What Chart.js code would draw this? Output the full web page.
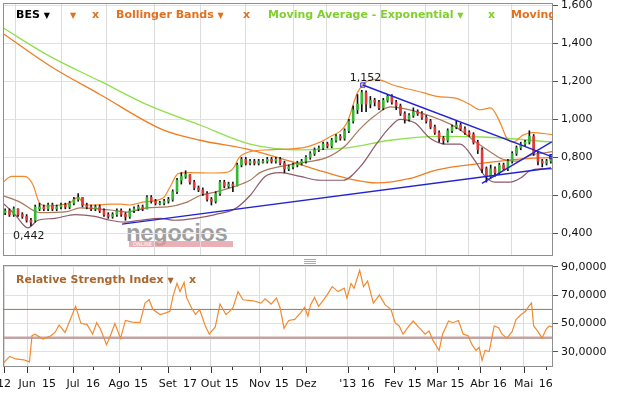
<!DOCTYPE html>
<html><head><meta charset="utf-8">
<script src="https://cdn.jsdelivr.net/npm/chart.js@4.4.1/dist/chart.umd.min.js"></script>
<style>
html,body{margin:0;padding:0;background:#fff}
body{width:618px;height:393px;overflow:hidden;position:relative;font-family:"DejaVu Sans",Verdana,sans-serif}
canvas{position:absolute;left:0}
#c1{top:0}
#c2{top:262px}
.lg{position:absolute;font-weight:bold;font-size:11px;white-space:nowrap;line-height:13px;top:8px}
.tri{font-size:8px}
#wm{position:absolute;left:126px;top:219px;font:bold 24px "Liberation Sans",Arial,sans-serif;color:rgba(128,128,128,0.75);letter-spacing:-0.5px}
#wmbar{position:absolute;left:129px;top:241px;width:104px;height:6px;background:rgba(226,150,160,0.75);font:5px "DejaVu Sans";color:#fff;line-height:6px;padding-left:4px;box-sizing:border-box}
#split{position:absolute;left:304px;top:259px;width:12px;height:5px;border-top:1px solid #aaa;border-bottom:1px solid #aaa;box-sizing:border-box}
#split:after{content:"";position:absolute;left:0;top:1px;width:12px;height:1px;background:#aaa}
</style></head><body>
<div id="wm">negocios</div><div id="wmbar">ONLINE</div>
<canvas id="c1" width="618" height="260"></canvas>
<canvas id="c2" width="618" height="131"></canvas>
<div id="split"></div>
<div style="position:absolute;left:4px;top:4px;width:549px;height:20px;overflow:hidden">
  <span class="lg" style="left:12px;top:4px;color:#000">BES <span class="tri">▼</span></span>
  <span class="lg" style="left:66px;top:4px;color:#e2701e"><span class="tri">▼</span></span>
  <span class="lg" style="left:88px;top:4px;color:#e2701e">x</span>
  <span class="lg" style="left:112px;top:4px;color:#e2701e">Bollinger Bands <span class="tri">▼</span></span>
  <span class="lg" style="left:239px;top:4px;color:#e2701e">x</span>
  <span class="lg" style="left:264px;top:4px;color:#7fd02e">Moving Average - Exponential <span class="tri">▼</span></span>
  <span class="lg" style="left:484px;top:4px;color:#7fd02e">x</span>
  <span class="lg" style="left:507px;top:4px;color:#e2701e">Moving</span>
</div>
<div class="lg" style="left:16px;top:273px;color:#a8672f">Relative Strength Index <span class="tri">▼</span>&nbsp;&nbsp;&nbsp;&nbsp;x</div>
<script>
// ---------- data ----------
const xTickDays   = [0.5, 11.2, 21.4, 32.6, 41.9, 54, 64.2, 76.7, 87, 96.7, 106.5, 119.5, 129.8, 141, 160.5, 169.8, 181.9, 191.6, 201.9, 211.6, 221.9, 231.2, 242.3, 252.6];
const xTickLabels = ['12','Jun','15','Jul','16','Ago','15','Set','17','Out','15','Nov','15','Dez',"'13",'16','Fev','15','Mar','15','Abr','16','Mai','16'];
const xTickMajor  = [true,true,false,true,false,true,false,true,false,true,false,true,false,true,true,false,true,false,true,false,true,false,true,false];
const priceTicks = [0.4, 0.6, 0.8, 1.0, 1.2, 1.4, 1.6];
const rsiTicks = [30, 50, 70, 90];
const rsiLevels = [60, 40];

const candleOpen = [.51,.52,.50,.53,.50,.49,.47,.47,.53,.54, .53,.55,.53,.54,.55,.54,.56,.58,.59,.55, .54,.53,.54,.52,.50,.49,.50,.52,.50,.49,
 .52,.53,.54,.53,.59,.57,.555,.56,.57,.58, .62,.68,.70,.71,.67,.64,.63,.61,.58,.57, .61,.67,.65,.66,.65,.76,.79,.77,.78,.77,
 .775,.78,.79,.78,.79,.77,.74,.75,.76,.77, .78,.80,.82,.84,.85,.87,.86,.89,.91,.90, .94,.99,1.05,1.08,1.14,1.08,1.10,1.09,1.06,1.10,
 1.12,1.09,1.07,1.03,1.00,1.02,1.04,1.03,1.01,.99, .96,.93,.90,.89,.94,.96,.97,.95,.93,.92, .88,.84,.74,.70,.74,.72,.76,.74,.78,.82,
 .85,.87,.88,.91,.82,.78,.77,.78];
const candleHigh = [.53,.53,.54,.53,.51,.50,.48,.55,.56,.55, .56,.56,.55,.56,.56,.57,.59,.61,.59,.56, .55,.55,.55,.53,.51,.51,.53,.53,.51,.53,
 .54,.55,.55,.60,.60,.58,.57,.58,.59,.63, .69,.72,.73,.71,.68,.65,.64,.62,.59,.62, .68,.68,.67,.67,.77,.80,.80,.79,.79,.79,
 .79,.80,.80,.80,.80,.78,.76,.77,.78,.79, .81,.83,.85,.86,.88,.88,.90,.92,.92,.95, 1.00,1.07,1.13,1.152,1.15,1.12,1.11,1.10,1.11,1.13,
 1.13,1.10,1.08,1.04,1.03,1.06,1.05,1.04,1.02,1.00, .97,.94,.91,.95,.97,.99,.98,.96,.94,.93, .89,.85,.75,.76,.75,.77,.77,.79,.83,.86,
 .88,.89,.94,.92,.83,.79,.79,.81];
const candleLow = [.50,.49,.49,.49,.48,.46,.442,.46,.52,.52, .52,.52,.52,.53,.53,.53,.55,.57,.54,.53, .52,.52,.51,.49,.48,.48,.49,.49,.47,.48,
 .51,.52,.52,.53,.56,.55,.55,.55,.56,.57, .61,.66,.69,.66,.63,.62,.60,.57,.55,.56, .60,.64,.64,.62,.65,.75,.76,.76,.76,.76,
 .77,.77,.77,.77,.76,.72,.73,.74,.75,.76, .77,.79,.81,.83,.84,.85,.85,.88,.89,.89, .93,.98,1.03,1.04,1.04,1.06,1.07,1.05,1.05,1.09,
 1.08,1.05,1.02,.98,.99,1.01,1.02,1.00,.98,.95, .92,.88,.87,.88,.93,.95,.94,.92,.91,.87, .82,.72,.67,.69,.70,.71,.73,.73,.77,.81,
 .84,.86,.87,.81,.76,.75,.76,.77];
const candleClose = [.52,.50,.53,.50,.49,.47,.46,.54,.54,.53, .55,.53,.54,.55,.54,.56,.58,.59,.55,.54, .53,.54,.52,.50,.49,.50,.52,.50,.49,.52,
 .53,.54,.53,.59,.57,.56,.56,.57,.58,.62, .68,.70,.71,.67,.64,.63,.61,.58,.57,.61, .67,.65,.66,.65,.76,.79,.77,.78,.77,.78,
 .78,.79,.78,.79,.77,.74,.75,.76,.77,.78, .80,.82,.84,.85,.87,.86,.89,.91,.90,.94, .99,1.05,1.08,1.14,1.08,1.10,1.09,1.06,1.10,1.12,
 1.09,1.07,1.03,1.00,1.02,1.04,1.03,1.01,.99,.96, .93,.90,.89,.94,.96,.97,.95,.93,.92,.88, .84,.74,.70,.74,.72,.76,.74,.78,.82,.85,
 .87,.88,.91,.82,.78,.77,.78,.80];

// [trading day, value]
const bbUpper = [[0,.67],[4,.70],[10,.70],[14,.655],[17,.56],[20.5,.545],[26.5,.55],[31,.56],[35,.59],[38,.55],[43,.55],[50,.555],[55,.555],[59,.55],[65,.565],[74.5,.587],[78,.65],[81.5,.715],[87,.72],[98,.718],[103,.72],[107,.74],[110,.80],[115,.83],[124,.84],[134,.845],[141.5,.855],[152,.907],[160,.98],[165,1.14],[169.5,1.20],[174,1.21],[181.5,1.18],[195.5,1.14],[202,1.12],[211,1.11],[217,1.08],[222,1.05],[227,1.06],[231.5,.98],[234.5,.90],[237.5,.88],[242,.917],[246.5,.93],[255.6,.92]];
const bbMiddle = [[0,.60],[7.9,.565],[17.2,.51],[29.8,.515],[35.8,.535],[49.8,.524],[57.7,.513],[67,.535],[76.4,.54],[85.7,.565],[91.7,.60],[99.6,.62],[107.1,.645],[115,.68],[119.6,.72],[135,.765],[150.8,.80],[159.2,.86],[166.2,.95],[173.2,1.02],[180.2,1.065],[195.5,1.03],[211.4,.955],[220.7,.875],[226.7,.83],[232.7,.79],[239.3,.78],[245.3,.81],[255.6,.83]];
const bbLower = [[0,.56],[5.6,.50],[11.6,.43],[16.3,.47],[24.2,.48],[33.5,.50],[42.8,.49],[49.8,.47],[56.8,.46],[63.8,.47],[73.1,.48],[80.1,.47],[89.4,.48],[98.7,.50],[108,.53],[115,.60],[122,.70],[129,.72],[138.3,.70],[147.6,.68],[158.3,.68],[166.2,.75],[174.1,.875],[180.2,.96],[184.8,1.00],[191.8,.98],[198.8,.90],[205.8,.87],[212.8,.87],[219.8,.78],[224.4,.70],[229,.67],[236,.67],[240.7,.69],[245.3,.73],[250,.74],[255.6,.74]];
const emaLine = [[0,1.48],[21.9,1.33],[45.2,1.20],[68.4,1.07],[91.7,.97],[115,.87],[138.3,.84],[160.1,.85],[180.2,.89],[202,.91],[223.5,.907],[256,.88]];
const maLine = [[0,1.45],[21.9,1.28],[45.2,1.13],[74.5,.944],[91.7,.89],[115,.84],[133.6,.78],[146.2,.735],[160.1,.69],[174.1,.666],[189.5,.69],[202,.735],[223.5,.77],[239.3,.79],[256,.80]];
const trendLines = [
  [[55.4,.450],[255.1,.744]],
  [[167.5,1.18],[255.4,.804]],
  [[222.9,.664],[255.4,.882]]
];
const rsiLine = [[0,21.7],[3.1,26.8],[5.9,25],[9.6,24.4],[11.4,23.5],[12.3,22.8],[13.5,41.4],[14.9,42.5],[18.6,39],[22.3,41.4],[24.2,43.7],[26.1,49],[28.9,43.7],[30.7,50.6],[33.8,62.2],[36.3,50],[39.1,49.4],[41.7,42.5],[43.6,50.6],[45.4,46],[48.2,35.1],[50,41.4],[52.1,50],[54.7,39.5],[57,52.2],[60.1,51],[63.8,50.6],[66.1,64.5],[68,66.8],[69.8,59.9],[73.1,56.4],[75.9,57.6],[77.7,58.7],[79.1,69.2],[81,78.4],[82.4,72.6],[84.3,79.1],[85.4,68.5],[87.8,61],[89.6,56.4],[91.5,59.9],[94.2,48.3],[96,42.5],[98.8,47.6],[101,63.8],[103.8,56.4],[105.2,58.3],[107,61],[109.4,72.6],[111.7,66.8],[116.4,66.1],[120.1,64.5],[122,67.5],[124.8,63.8],[127.3,68],[129,61],[130.8,46.7],[133,52.2],[135.8,53],[138.5,57.6],[140.4,61.5],[141.9,55.3],[143.2,63.4],[145,68.5],[146.9,62.2],[148.7,65.7],[151.1,70.8],[153.2,76.1],[156,72.6],[158.8,75],[160.1,68],[162,78.4],[163.4,75],[166,87.7],[167.8,76.1],[169.7,80],[172.4,64.5],[175.2,70.3],[177.8,63.4],[180.6,59.9],[182.5,50.6],[184.4,48.3],[186.2,42.5],[189,48.3],[190.9,51.8],[193.7,47.1],[196.5,42.5],[198.3,44.8],[200.2,37.9],[203,31],[204.6,42.5],[207.4,51.8],[209.3,50.6],[212,52.2],[214.2,42.5],[216.5,41.4],[218.3,35.1],[220.2,31],[221.6,33.3],[223,24],[224.4,31],[226.3,30.2],[228.6,48.3],[230.7,47.1],[232.3,42.5],[234.6,39.7],[237,44.4],[238.8,52.9],[241.2,56.4],[243.2,58.7],[244.7,62.2],[246,64.5],[247,48.3],[248.8,44.8],[250.9,39.7],[252.8,46],[254.2,48.3],[255.6,47.6]];

// ---------- setup ----------
const FONT = '"DejaVu Sans", Verdana, sans-serif';
const X_MIN = 0, X_MAX = 256;
const dayOf = i => 2 * i + 1;
const pts = arr => arr.map(p => ({x: p[0], y: p[1]}));

function xScale(showLabels) {
  return {
    type: 'linear', min: X_MIN, max: X_MAX, offset: false,
    afterBuildTicks: s => { s.ticks = xTickDays.map(v => ({value: v})); },
    ticks: {display: showLabels, autoSkip: false, maxRotation: 0, minRotation: 0, padding: 11,
      font: {family: FONT, size: 11}, color: '#111', callback: (v, i) => xTickLabels[i]},
    grid: {color: c => xTickMajor[c.index] ? '#dcdcdc' : 'rgba(0,0,0,0)', drawTicks: false},
    border: {display: false},
    afterFit: s => { s.height = showLabels ? 26 : 0; s.paddingLeft = 0; s.paddingRight = 0; }
  };
}
function yScale(min, max, ticks, dec) {
  return {
    position: 'right', min, max,
    afterBuildTicks: s => { s.ticks = ticks.map(v => ({value: v})); },
    ticks: {font: {family: FONT, size: 11}, color: '#111', padding: 3,
      callback: v => v.toFixed(dec).replace('.', ',')},
    grid: {color: '#e0e0e0', tickColor: '#555', tickLength: 5, drawTicks: true},
    border: {display: false},
    afterFit: s => { s.width = 65; s.paddingTop = 0; s.paddingBottom = 0; }
  };
}
const frame = {id: 'frame', afterDraw(ch) {
  const a = ch.chartArea, c = ch.ctx;
  c.save(); c.strokeStyle = '#8e8e8e'; c.lineWidth = 1;
  c.strokeRect(Math.round(a.left) + 0.5, Math.round(a.top) + 0.5, Math.round(a.right - a.left) - 1, Math.round(a.bottom - a.top) - 1);
  c.restore();
}};
const lineDs = (data, color, order, w) => ({type: 'line', data: pts(data), borderColor: color, borderWidth: w || 1.2,
  pointRadius: 0, cubicInterpolationMode: 'monotone', fill: false, order});

const hiIdx = candleHigh.indexOf(Math.max(...candleHigh));
const loIdx = candleLow.indexOf(Math.min(...candleLow));
const extremes = {id: 'extremes', afterDatasetsDraw(ch) {
  const c = ch.ctx, sx = ch.scales.x, sy = ch.scales.y;
  c.save(); c.font = '11px ' + FONT; c.fillStyle = '#1a1a1a'; c.textBaseline = 'middle'; c.textAlign = 'left';
  c.fillText(candleHigh[hiIdx].toFixed(3).replace('.', ','), sx.getPixelForValue(dayOf(hiIdx)) - 12, sy.getPixelForValue(candleHigh[hiIdx]) - 12);
  c.fillText(candleLow[loIdx].toFixed(3).replace('.', ','), sx.getPixelForValue(dayOf(loIdx)) - 18, sy.getPixelForValue(candleLow[loIdx]) + 11);
  c.restore();
}};

const datasets1 = [
  lineDs(emaLine, '#8fe04c', 6, 1.3),
  lineDs(maLine, '#f07d22', 6, 1.3),
  lineDs(bbUpper, '#f2882c', 5),
  lineDs(bbMiddle, '#a9795c', 5),
  lineDs(bbLower, '#8d5a66', 5),
  {type: 'bar', data: candleClose.map((c, i) => ({x: dayOf(i), y: [candleLow[i], candleHigh[i]]})),
   backgroundColor: '#111', barThickness: 1, grouped: false, order: 3},
  {type: 'bar', data: candleClose.map((c, i) => ({x: dayOf(i), y: [candleOpen[i], c]})),
   backgroundColor: candleClose.map((c, i) => c >= candleOpen[i] ? '#35b935' : '#e23a3a'),
   barThickness: 2, minBarLength: 1, grouped: false, order: 2},
  ...trendLines.map((t, k) => ({type: 'line', data: pts(t), borderColor: '#2323d2', borderWidth: 1.4,
     pointRadius: k === 1 ? 3 : 0, pointStyle: 'rect', pointBorderColor: '#2323d2', pointBackgroundColor: 'rgba(255,255,255,0)',
     pointBorderWidth: 1, tension: 0, order: 1}))
];

new Chart(document.getElementById('c1'), {
  type: 'line',
  data: {datasets: datasets1},
  options: {
    responsive: false, animation: false, events: [],
    layout: {padding: {left: 3, top: 3, right: 0, bottom: 4}, autoPadding: false},
    plugins: {legend: {display: false}, tooltip: {enabled: false}},
    scales: {x: xScale(false), y: yScale(0.2824, 1.6105, priceTicks, 3)}
  },
  plugins: [frame, extremes]
});

const tickMarks = {id: 'tickMarks', afterDraw(ch) {
  const c = ch.ctx, sx = ch.scales.x, b = Math.round(ch.chartArea.bottom);
  c.save(); c.strokeStyle = '#333'; c.lineWidth = 1;
  xTickDays.forEach((d, i) => {
    const x = Math.round(sx.getPixelForValue(d)) + 0.5;
    c.beginPath(); c.moveTo(x, b); c.lineTo(x, b + (xTickMajor[i] ? 6 : 3)); c.stroke();
  });
  c.restore();
}};

new Chart(document.getElementById('c2'), {
  type: 'line',
  data: {datasets: [
    ...rsiLevels.map((lv, k) => ({data: [{x: X_MIN, y: lv}, {x: X_MAX, y: lv}], borderColor: k === 0 ? '#b4703e' : '#c3a3a3',
      borderWidth: k === 0 ? 1 : 2.5, pointRadius: 0, order: 2})),
    {data: pts(rsiLine), borderColor: '#f28a30', borderWidth: 1.2, pointRadius: 0, tension: 0, order: 1}
  ]},
  options: {
    responsive: false, animation: false, events: [],
    layout: {padding: {left: 3, top: 3, right: 0, bottom: 0}, autoPadding: false},
    plugins: {legend: {display: false}, tooltip: {enabled: false}},
    scales: {x: xScale(true), y: yScale(19.3, 91.4, rsiTicks, 4)}
  },
  plugins: [frame, tickMarks]
});
</script>
</body></html>
